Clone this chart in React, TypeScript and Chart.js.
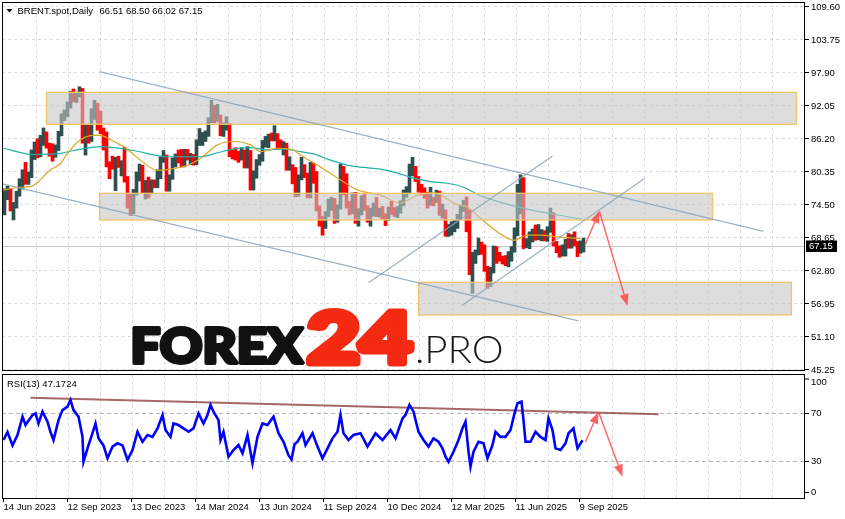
import React, { useEffect, useRef } from 'react';
import { Chart, registerables } from 'chart.js';

Chart.register(...registerables);

// ---------------- data ----------------
const GROUP_DAYS = 3; // each bar = 3 trading days
const GRID_DAYS = 32;

const barLow = [
  72.6,75.3,73.3,71.7,73.8,75.9,77.2,78.0,78.0,79.2,
  82.4,82.7,82.9,84.9,84.4,83.0,82.1,82.8,84.0,86.6,
  89.3,90.0,91.5,92.6,92.5,93.5,85.3,83.2,85.3,85.6,
  89.5,87.6,87.0,84.1,81.1,79.0,80.7,76.9,81.0,79.5,
  78.4,73.8,72.5,72.8,76.1,78.6,76.5,75.4,75.6,76.3,
  77.4,77.4,79.0,81.9,76.8,76.8,78.9,81.1,81.8,81.1,
  81.1,82.3,81.5,81.4,81.5,84.9,84.9,85.6,86.5,88.9,
  88.9,89.2,86.6,86.5,87.6,82.9,82.5,82.3,81.9,82.3,
  80.9,80.9,77.0,77.0,79.1,81.4,82.1,84.6,84.5,85.7,
  85.7,84.2,84.3,83.2,80.5,80.5,78.1,75.8,75.9,78.8,
  79.2,75.6,75.6,78.2,73.3,70.6,69.0,70.2,72.3,73.4,
  71.1,71.3,73.6,76.1,73.8,72.6,72.8,71.1,70.6,72.6,
  73.4,71.3,70.6,72.4,72.3,72.2,71.8,70.7,71.6,72.7,
  72.3,72.1,72.9,74.2,75.7,76.5,79.5,78.5,76.6,76.1,
  75.5,73.8,74.3,74.2,74.8,72.5,72.0,68.8,68.8,69.0,
  69.6,70.2,71.8,73.2,69.6,62.0,58.7,64.0,65.5,65.6,
  62.6,59.6,59.9,62.3,64.0,64.4,63.9,63.6,63.4,64.4,
  66.0,68.9,72.8,66.6,66.8,66.6,67.8,68.1,68.2,68.0,
  68.0,67.9,69.5,67.1,65.9,65.1,65.3,65.3,66.7,66.7,
  67.1,65.2,65.8,66.02,
];
const barHigh = [
  77.2,77.7,77.3,74.8,76.8,79.0,80.6,81.9,80.2,84.1,
  85.5,86.1,86.7,88.0,87.3,85.3,85.2,85.0,87.4,90.5,
  91.2,92.6,94.5,94.9,94.3,95.3,95.0,88.6,88.6,91.4,
  92.9,92.4,91.0,88.0,87.3,82.0,83.0,82.8,83.0,82.2,
  84.6,79.4,76.3,77.1,80.2,81.6,81.4,78.7,79.3,78.8,
  78.8,80.6,82.9,84.0,83.2,79.7,82.7,83.4,84.1,84.2,
  84.2,84.2,83.5,83.3,85.9,87.9,87.2,87.5,89.8,92.9,
  92.0,92.2,90.3,88.9,90.0,88.8,84.1,84.5,83.9,84.5,
  84.1,84.7,84.0,80.4,82.4,83.3,85.8,86.5,86.9,87.1,
  88.4,87.0,85.9,85.6,85.3,82.9,81.5,81.0,79.7,82.8,
  81.5,80.0,81.9,81.7,80.3,74.2,72.3,73.2,75.4,75.7,
  75.5,74.4,81.6,81.2,79.9,75.0,76.5,76.6,73.7,76.0,
  76.4,74.2,73.8,74.7,75.7,73.8,74.1,72.8,74.0,75.0,
  73.9,74.1,75.1,77.0,77.6,81.6,82.8,81.2,79.4,78.0,
  77.4,76.6,77.5,75.7,77.0,76.8,74.5,73.5,70.9,71.4,
  71.6,72.7,74.3,75.2,75.8,73.5,66.0,66.4,68.5,67.8,
  67.3,63.5,63.3,67.1,67.0,66.0,65.3,65.4,66.1,67.0,
  70.3,78.0,79.7,79.2,68.4,69.6,70.1,70.8,70.9,70.0,
  69.8,70.5,73.8,73.0,67.9,67.1,67.3,68.3,69.3,69.1,
  69.6,67.9,68.0,68.5,
];
const barDir = [
  'uuduuuuduu','uduuddduuu','uuuduududu','uddddddudu','ddduuududu',
  'duuuduuudd','ududuuuuuu','duduuddddu','duduuuuuud','uddududduu',
  'ddudddduuu','duuddduduu','dduududdud','duuuuuuddd','ddudududuu',
  'uuuudduuud','dduudddduu','uuuduuuduu','duuddduudu','dduu',
].join('');

const lastClose = 67.15;
const titleSymbol = 'BRENT.spot,Daily';
const titleQuote = '66.51 68.50 66.02 67.15';

const maFastDay = [0,17,27,47,57,64,77,90,97,107,120,137,154,170,184,197,214,230,247,257,274,290,297,317,337,354,377,397,414,430,454,464,477,497,510,524,537,554,577];
const maFastVal = [77.0,77.5,77.6,80.6,81.7,83.5,85.9,86.7,86.7,85.9,84.7,82.3,80.5,80.8,81.4,82.6,85.0,85.6,85.0,83.8,84.4,84.1,83.2,81.1,78.8,77.0,76.1,74.7,76.1,76.5,74.4,74.0,72.0,69.2,68.1,69.0,69.0,68.7,68.4];
const maSlowDay = [0,30,57,70,97,130,164,197,214,230,247,264,280,297,310,327,344,360,377,394,410,427,444,460,477,494,510,527,544,560,579];
const maSlowVal = [84.4,83.3,83.5,84.0,84.7,84.0,82.9,82.9,83.6,84.3,84.5,84.1,84.3,83.8,83.4,82.3,81.4,81.0,80.7,80.0,79.1,78.5,78.2,77.5,76.0,75.0,74.2,73.5,72.9,72.4,71.8];

const rsiDay = [0,4,9,14,19,22,29,32,35,39,44,47,50,55,59,64,67,70,75,79,80,84,89,92,95,100,104,109,114,119,124,129,134,139,144,149,154,159,162,167,170,175,180,185,190,195,200,204,207,210,215,217,220,225,230,235,239,244,249,254,259,264,270,275,280,285,288,291,294,299,302,309,314,319,324,329,334,337,340,345,350,357,364,372,379,387,392,399,402,406,410,415,420,425,430,435,439,442,445,450,455,459,462,465,467,470,475,480,484,489,492,497,502,507,511,514,518,520,522,527,532,537,542,545,549,552,557,562,565,570,574,579];
const rsiVal = [47.4,54,43,51.5,66.6,59.7,68,69.3,61,70.7,62.5,54,47.4,63.8,72,74.8,80.3,72,66.6,50,29.6,40.6,53,61,48.8,43,32.4,42,44.7,43,31,39.2,54.2,46,51.5,50,57,68,55.6,50,61,59.7,57,54.2,57,69.3,61,68,76.2,70.7,63.8,47.4,54.2,33.7,39.2,43.3,36.5,51.5,28.3,50,61,59.7,66.6,53,46,35,31.5,44,46,53,43.3,53,42,32.4,40.6,48.8,54.2,68,53,47.4,51.5,53,42,53,47.4,55.6,48.8,65.2,68,76.2,70.7,54.2,47.4,42,48.8,46,40.6,33.7,29.6,37.8,47.4,57,62.5,37.8,25.5,37.8,46,44.7,32.4,43.3,54.2,50,50,55.6,69.3,77.6,78.9,63.8,46,46,54.2,50,47.4,65.2,55.6,40.6,39.2,44.7,53,57,40.6,47.2];
const rsiLabel = 'RSI(13) 47.1724';

const priceTicks = [109.6, 103.75, 97.9, 92.05, 86.2, 80.35, 74.5, 68.65, 62.8, 56.95, 51.1, 45.25];
const rsiTicks = [100, 70, 30, 0];
const rsiLevels = [70, 30];
const dateDays = [0, 64, 128, 192, 256, 320, 384, 448, 512, 576];
const dateLabels = ['14 Jun 2023','12 Sep 2023','13 Dec 2023','14 Mar 2024','13 Jun 2024','11 Sep 2024','10 Dec 2024','12 Mar 2025','11 Jun 2025','9 Sep 2025'];

// annotation objects (in day / price coordinates)
const zoneStartDay = [43, 96, 415];
const zoneEndDay = [793, 709, 788];
const zoneTop = [94.31, 76.42, 60.66];
const zoneBottom = [88.65, 71.7, 54.87];

const lineDay0 = [96, -1, 365, 458];
const linePrice0 = [97.96, 78.11, 60.57, 56.52];
const lineDay1 = [760, 575, 549, 641];
const linePrice1 = [69.66, 53.81, 83.03, 79.05];

const arrowDay0 = [582, 596];
const arrowPrice0 = [67.44, 73.17];
const arrowDay1 = [596, 624];
const arrowPrice1 = [73.29, 56.46];

const rsiTrendDay = [27, 655];
const rsiTrendVal = [82.2, 68.5];
const rsiArrowDay0 = [582, 595];
const rsiArrowVal0 = [46, 70.7];
const rsiArrowDay1 = [595, 619];
const rsiArrowVal1 = [70.7, 17.3];

// ---------------- helpers ----------------
const AX_FONT = '9.5px "Liberation Sans", Arial, sans-serif';
const UP = '#2F4F4F';
const DOWN = '#FF0000';
const ARROW = 'rgba(255,70,70,0.85)';

function seg(ctx: CanvasRenderingContext2D, x0: number, y0: number, x1: number, y1: number) {
  ctx.beginPath();
  ctx.moveTo(x0, y0);
  ctx.lineTo(x1, y1);
  ctx.stroke();
}

function arrow(ctx: CanvasRenderingContext2D, x0: number, y0: number, x1: number, y1: number) {
  const ang = Math.atan2(y1 - y0, x1 - x0);
  const L = 12, W = 4.5;
  const bx = x1 - L * Math.cos(ang), by = y1 - L * Math.sin(ang);
  ctx.strokeStyle = ARROW;
  ctx.fillStyle = ARROW;
  ctx.lineWidth = 1.4;
  seg(ctx, x0, y0, bx, by);
  ctx.beginPath();
  ctx.moveTo(x1, y1);
  ctx.lineTo(bx + W * Math.sin(ang), by - W * Math.cos(ang));
  ctx.lineTo(bx - W * Math.sin(ang), by + W * Math.cos(ang));
  ctx.closePath();
  ctx.fill();
}

// draw text so its ink box is left..left+width and height above baseline; sw = extra stroke weight
function drawFit(ctx: CanvasRenderingContext2D, text: string, font: string, color: string,
  left: number, baseline: number, width: number, height: number, sw: number) {
  ctx.save();
  ctx.font = font;
  ctx.textBaseline = 'alphabetic';
  ctx.textAlign = 'left';
  const m = ctx.measureText(text);
  const w = m.actualBoundingBoxLeft + m.actualBoundingBoxRight;
  const h = m.actualBoundingBoxAscent;
  const sx = (width - sw) / w, sy = (height - sw / 2) / h;
  ctx.translate(left + sw / 2, baseline);
  ctx.scale(sx, sy);
  ctx.fillStyle = color;
  ctx.fillText(text, m.actualBoundingBoxLeft, 0);
  if (sw > 0) {
    ctx.strokeStyle = color;
    ctx.lineJoin = 'round';
    ctx.lineWidth = sw / ((sx + sy) / 2);
    ctx.strokeText(text, m.actualBoundingBoxLeft, 0);
  }
  ctx.restore();
}

function vGrid(ctx: CanvasRenderingContext2D, x: any, a: any) {
  ctx.save();
  ctx.strokeStyle = '#DADADA';
  ctx.lineWidth = 1;
  ctx.setLineDash([3, 3]);
  for (let d = GRID_DAYS + 0.5; x.getPixelForValue(d) < a.right - 6; d += GRID_DAYS) {
    const px = Math.floor(x.getPixelForValue(d)) + 0.5;
    seg(ctx, px, a.top, px, a.bottom);
  }
  ctx.restore();
}

const mainPlugin = {
  id: 'mainDecor',
  beforeDatasetsDraw(chart: any) {
    const { ctx, chartArea: a, scales } = chart;
    const x = scales.x, y = scales.y;
    ctx.save();
    ctx.fillStyle = '#FFFFFF';
    ctx.fillRect(a.left, a.top, a.right - a.left, a.bottom - a.top);
    ctx.strokeStyle = '#DADADA';
    ctx.lineWidth = 1;
    ctx.setLineDash([3, 3]);
    for (const v of priceTicks) {
      const py = Math.round(y.getPixelForValue(v)) + 0.5;
      seg(ctx, a.left, py, a.right, py);
    }
    ctx.setLineDash([]);
    vGrid(ctx, x, a);
    ctx.strokeStyle = '#C8C8C8';
    const by = Math.round(y.getPixelForValue(lastClose)) + 0.5;
    seg(ctx, a.left, by, a.right, by);
    ctx.restore();
  },
  afterDatasetsDraw(chart: any) {
    const { ctx, chartArea: a, scales } = chart;
    const x = scales.x, y = scales.y;
    ctx.save();
    ctx.beginPath();
    ctx.rect(a.left, a.top, a.right - a.left, a.bottom - a.top);
    ctx.clip();
    for (let i = 0; i < zoneStartDay.length; i++) {
      const x0 = x.getPixelForValue(zoneStartDay[i]);
      const x1 = x.getPixelForValue(zoneEndDay[i]);
      const y0 = y.getPixelForValue(zoneTop[i]);
      const y1 = y.getPixelForValue(zoneBottom[i]);
      ctx.fillStyle = 'rgba(198,198,198,0.6)';
      ctx.fillRect(x0, y0, x1 - x0, y1 - y0);
      ctx.strokeStyle = '#F2C46C';
      ctx.lineWidth = 1.3;
      ctx.strokeRect(x0, y0, x1 - x0, y1 - y0);
    }
    ctx.strokeStyle = 'rgba(140,165,185,0.85)';
    ctx.lineWidth = 1.3;
    for (let i = 0; i < lineDay0.length; i++) {
      seg(ctx, x.getPixelForValue(lineDay0[i]), y.getPixelForValue(linePrice0[i]),
        x.getPixelForValue(lineDay1[i]), y.getPixelForValue(linePrice1[i]));
    }
    for (let i = 0; i < arrowDay0.length; i++) {
      arrow(ctx, x.getPixelForValue(arrowDay0[i]), y.getPixelForValue(arrowPrice0[i]),
        x.getPixelForValue(arrowDay1[i]), y.getPixelForValue(arrowPrice1[i]));
    }
    ctx.restore();
  },
  afterDraw(chart: any) {
    const { ctx, chartArea: a, scales } = chart;
    const y = scales.y;
    ctx.save();
    // logo
    drawFit(ctx, 'FOREX', '900 51px Lato, "Open Sans", sans-serif', '#111111', 131.5, 362.7, 173.5, 36.7, 4);
    drawFit(ctx, '24', '900 78px Lato, "Open Sans", sans-serif', '#F42A12', 305.5, 362.7, 109.5, 56.5, 8);
    drawFit(ctx, '.PRO', '300 38.7px Lato, "Open Sans", sans-serif', '#1A1A1A', 417, 362.7, 85, 27.7, 0);
    // border
    ctx.strokeStyle = '#000000';
    ctx.lineWidth = 1;
    ctx.strokeRect(a.left + 0.5, a.top + 0.5, a.right - a.left, a.bottom - a.top - 1);
    // price axis
    ctx.font = AX_FONT;
    ctx.fillStyle = '#000000';
    ctx.textBaseline = 'middle';
    ctx.textAlign = 'left';
    for (const v of priceTicks) {
      const py = Math.round(y.getPixelForValue(v)) + 0.5;
      seg(ctx, a.right + 1, py, a.right + 5, py);
      ctx.fillText(v.toFixed(2), a.right + 7, py + 0.5);
    }
    const cy = Math.round(y.getPixelForValue(lastClose));
    ctx.fillStyle = '#000000';
    ctx.fillRect(a.right + 2, cy - 5.5, 31, 11.5);
    ctx.fillStyle = '#FFFFFF';
    ctx.fillText(lastClose.toFixed(2), a.right + 5, cy + 0.5);
    // title
    ctx.fillStyle = '#000000';
    ctx.beginPath();
    ctx.moveTo(6.5, 9);
    ctx.lineTo(12.5, 9);
    ctx.lineTo(9.5, 12.5);
    ctx.closePath();
    ctx.fill();
    ctx.fillText(titleSymbol, 17.5, 11);
    ctx.fillText(titleQuote, 99.5, 11);
    ctx.restore();
  },
};

const rsiPlugin = {
  id: 'rsiDecor',
  beforeDatasetsDraw(chart: any) {
    const { ctx, chartArea: a, scales } = chart;
    const x = scales.x, y = scales.y;
    ctx.save();
    ctx.fillStyle = '#FFFFFF';
    ctx.fillRect(a.left, a.top, a.right - a.left, a.bottom - a.top);
    vGrid(ctx, x, a);
    ctx.strokeStyle = '#B4B4B4';
    ctx.lineWidth = 1;
    ctx.setLineDash([4, 3]);
    for (const v of rsiLevels) {
      const py = Math.round(y.getPixelForValue(v)) + 0.5;
      seg(ctx, a.left, py, a.right, py);
    }
    ctx.restore();
  },
  afterDatasetsDraw(chart: any) {
    const { ctx, scales } = chart;
    const x = scales.x, y = scales.y;
    ctx.save();
    for (let i = 0; i < rsiArrowDay0.length; i++) {
      arrow(ctx, x.getPixelForValue(rsiArrowDay0[i]), y.getPixelForValue(rsiArrowVal0[i]),
        x.getPixelForValue(rsiArrowDay1[i]), y.getPixelForValue(rsiArrowVal1[i]));
    }
    ctx.restore();
  },
  afterDraw(chart: any) {
    const { ctx, chartArea: a, scales } = chart;
    const x = scales.x, y = scales.y;
    ctx.save();
    ctx.strokeStyle = '#000000';
    ctx.lineWidth = 1;
    ctx.strokeRect(a.left + 0.5, a.top - 0.5, a.right - a.left, a.bottom - a.top + 1);
    ctx.font = AX_FONT;
    ctx.fillStyle = '#000000';
    ctx.textBaseline = 'middle';
    ctx.textAlign = 'left';
    ctx.fillText(rsiLabel, 7, 12);
    for (const v of rsiTicks) {
      let ty = Math.round(y.getPixelForValue(v)) + 0.5;
      let txt = ty;
      if (v === 100) { ty += 2.5; txt = ty + 3; }
      if (v === 0) { ty -= 6; txt = ty; }
      seg(ctx, a.right + 1, ty, a.right + 5, ty);
      ctx.fillText(String(v), a.right + 7, txt);
    }
    for (let i = 0; i < dateDays.length; i++) {
      const px = Math.floor(x.getPixelForValue(dateDays[i])) + 0.5;
      seg(ctx, px, a.bottom, px, a.bottom + 4);
      ctx.fillText(dateLabels[i], px, a.bottom + 9.5);
    }
    ctx.restore();
  },
};

function mainConfig(): any {
  const bars = barLow.map((lo, g) => ({ x: g * GROUP_DAYS + 1, y: [lo, barHigh[g]] }));
  const colors = barLow.map((_, g) => (barDir[g] === 'u' ? UP : DOWN));
  return {
    type: 'bar',
    data: {
      datasets: [
        {
          type: 'bar', data: bars, backgroundColor: colors, borderWidth: 0,
          barThickness: GROUP_DAYS, order: 10,
        },
        {
          type: 'line', data: maSlowDay.map((d, i) => ({ x: d, y: maSlowVal[i] })),
          borderColor: '#20B2AA', borderWidth: 1.2, pointRadius: 0, fill: false,
          cubicInterpolationMode: 'monotone', order: 4,
        },
        {
          type: 'line', data: maFastDay.map((d, i) => ({ x: d, y: maFastVal[i] })),
          borderColor: '#DAA520', borderWidth: 1.2, pointRadius: 0, fill: false,
          cubicInterpolationMode: 'monotone', order: 3,
        },
      ],
    },
    options: {
      animation: false,
      responsive: false,
      devicePixelRatio: 1,
      events: [],
      layout: { padding: { left: 2, right: 41, top: 2, bottom: 9 } },
      scales: {
        x: { type: 'linear', min: -1.5, max: 800.5, offset: false, display: false },
        y: { type: 'linear', min: 44.949, max: 110.3085, display: false },
      },
      plugins: { legend: { display: false }, tooltip: { enabled: false } },
    },
    plugins: [mainPlugin],
  };
}

function rsiConfig(): any {
  return {
    type: 'line',
    data: {
      datasets: [
        {
          data: rsiTrendDay.map((d, i) => ({ x: d, y: rsiTrendVal[i] })),
          borderColor: 'rgba(145,65,65,0.8)', borderWidth: 2, pointRadius: 0, fill: false, order: 2,
        },
        {
          data: rsiDay.map((d, i) => ({ x: d, y: rsiVal[i] })),
          borderColor: '#0000FF', borderWidth: 2.6, pointRadius: 0, fill: false, order: 1,
        },
      ],
    },
    options: {
      animation: false,
      responsive: false,
      devicePixelRatio: 1,
      events: [],
      layout: { padding: { left: 2, right: 41, top: 3, bottom: 21 } },
      scales: {
        x: { type: 'linear', min: -1.5, max: 800.5, offset: false, display: false },
        y: { type: 'linear', min: -0.2, max: 100.8, display: false },
      },
      plugins: { legend: { display: false }, tooltip: { enabled: false } },
    },
    plugins: [rsiPlugin],
  };
}

export default function App() {
  const mainRef = useRef<HTMLCanvasElement>(null);
  const rsiRef = useRef<HTMLCanvasElement>(null);
  useEffect(() => {
    const c1 = new Chart(mainRef.current as HTMLCanvasElement, mainConfig());
    const c2 = new Chart(rsiRef.current as HTMLCanvasElement, rsiConfig());
    return () => {
      c1.destroy();
      c2.destroy();
    };
  }, []);
  return (
    <div style={{ position: 'absolute', left: 0, top: 0, width: 845, height: 519, background: '#FFFFFF', overflow: 'hidden' }}>
      <canvas ref={mainRef} width={845} height={380}
        style={{ position: 'absolute', left: 0, top: 0, width: 845, height: 380 }} />
      <canvas ref={rsiRef} width={845} height={147}
        style={{ position: 'absolute', left: 0, top: 372, width: 845, height: 147 }} />
    </div>
  );
}
